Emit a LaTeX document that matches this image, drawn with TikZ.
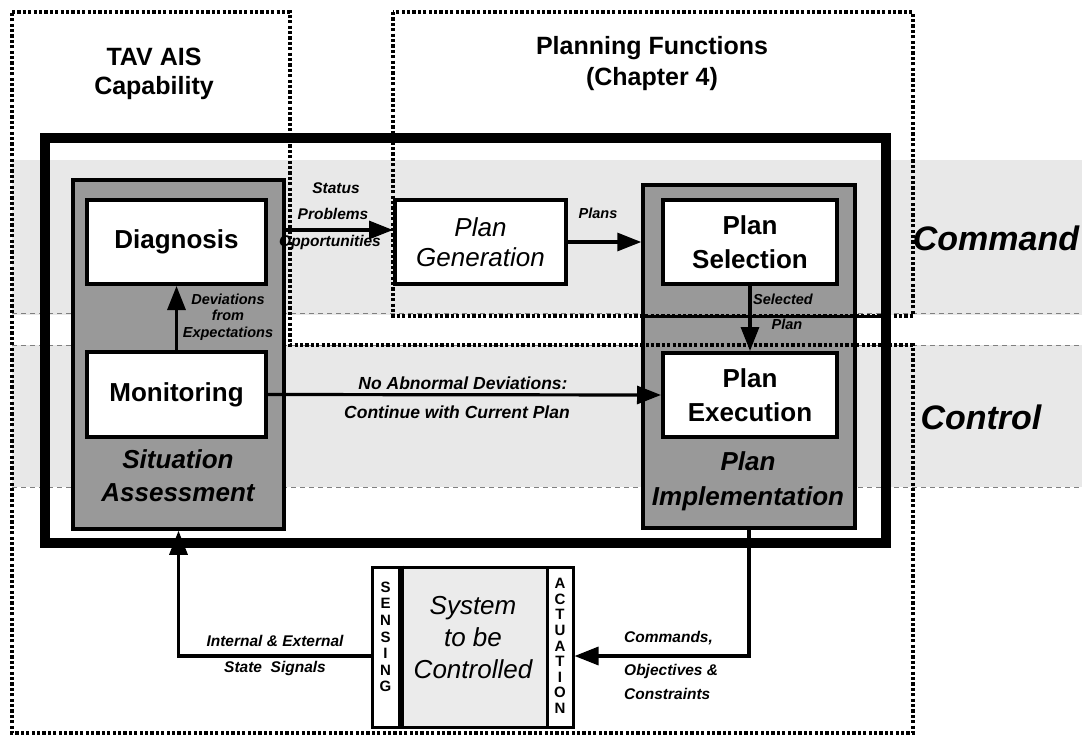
\documentclass[tikz,border=0pt]{standalone}
\usepackage{fontspec}
\setmainfont{Liberation Sans}
\usetikzlibrary{arrows.meta}
\begin{document}
\begin{tikzpicture}[x=1pt,y=-1pt,
  dotregion/.style={line width=3.3pt, dash pattern=on 3.2pt off 2.2pt},
  bandedge/.style={line width=0.9pt, black!50, dash pattern=on 5pt off 4pt},
  wbox/.style={draw, line width=4pt, fill=white, inner sep=0pt, align=center},
  gbox/.style={draw, line width=3.5pt, fill=black!40, inner sep=0pt},
  sbox/.style={draw, line width=3pt, inner sep=0pt, align=center},
  conn/.style={line width=3.2pt, -{Triangle[length=24pt,width=18pt]}},
  lbl/.style={inner sep=0pt, align=center, font=\fontsize{15.5}{17}\selectfont\bfseries\itshape},
  slbl/.style={inner sep=0pt, align=center, font=\fontsize{14.5}{16.5}\selectfont\bfseries\itshape},
  boxfont/.style={font=\fontsize{26}{34}\selectfont\bfseries},
  big/.style={inner sep=0pt, align=center, font=\fontsize{26}{33}\selectfont\bfseries\itshape},
]
\useasboundingbox (0,0) rectangle (1082,736);

% light stippled bands
\fill[black!9] (12,160) rectangle (1082,315);
\fill[black!9] (12,345) rectangle (1082,487);
\draw[bandedge] (12,313) -- (1082,313);
\draw[bandedge] (12,345) -- (1082,345);
\draw[bandedge] (12,487) -- (1082,487);

% thick frame
\node[draw, line width=10pt, minimum width=841pt, minimum height=405.5pt, inner sep=0pt] (frame) at (465.5,340.25) {};

% grey groups
\node[gbox, minimum width=211pt, minimum height=349pt] (sa) at (178.5,354.5) {};
\node[gbox, minimum width=212pt, minimum height=343pt] (pimp) at (749,356.5) {};
\draw[line width=3pt] (pimp.west |- 0,316) -- (frame.east |- 0,316);

% white boxes
\node[wbox, boxfont, minimum width=179pt, minimum height=84pt] (diag) at (176.5,242) {Diagnosis};
\node[wbox, boxfont, minimum width=179pt, minimum height=85pt] (mon) at (176.5,394.5) {Monitoring};
\node[wbox, font=\fontsize{26}{30}\selectfont\itshape, minimum width=171pt, minimum height=84pt] (pgen) at (480.5,242) {Plan\\Generation};
\node[wbox, boxfont, minimum width=174pt, minimum height=84pt] (psel) at (750,242) {Plan\\Selection};
\node[wbox, boxfont, minimum width=174pt, minimum height=84pt] (pexe) at (750,395) {Plan\\Execution};

% system to be controlled
\node[sbox, fill=black!8, minimum width=148pt, minimum height=160pt] (sysm) at (473,647) {};
\node[sbox, fill=white, minimum width=27pt, minimum height=160pt] (sens) at (385.5,647) {};
\node[sbox, fill=white, minimum width=26pt, minimum height=160pt] (act) at (560,647) {};
\draw[line width=6pt] (sens.north east) -- (sens.south east);
\node[inner sep=0pt, align=center, font=\fontsize{15}{16.6}\selectfont\bfseries] (senst) at ([yshift=10pt]sens.center) {S\\E\\N\\S\\I\\N\\G};
\node[inner sep=0pt, align=center, font=\fontsize{15}{15.6}\selectfont\bfseries] (actt) at ([yshift=1pt]act.center) {A\\C\\T\\U\\A\\T\\I\\O\\N};
\node[inner sep=0pt, align=center, font=\fontsize{26}{32}\selectfont\itshape] (syst) at ([yshift=9pt]sysm.center) {System\\to be\\Controlled};

% dotted regions
\draw[dotregion] (12,12) -- (290,12) -- (290,345) -- (913,345) -- (913,733) -- (12,733) -- cycle;
\draw[dotregion] (393,12) rectangle (913,316);

% connectors
\coordinate (st) at ([yshift=12pt]pgen.west);
\draw[conn] (sa.east |- st) -- (st);
\draw[conn] (pgen.east) -- (pimp.west |- pgen.east);
\draw[conn] (mon.north) -- (diag.south);
\draw[conn] (psel.south) -- (pexe.north);
\draw[conn] (mon.east) -- (pexe.west);
\coordinate (cmd) at ([yshift=-9pt]act.east);
\draw[conn] (pimp.south) |- (cmd);
\coordinate (sig) at ([yshift=-9pt]sens.west);
\draw[conn] (sig) -| (sa.south);

% labels
\node[lbl] (l1) at (336,188) {Status};
\node[lbl] (l2) at (333,214) {Problems};
\node[lbl] (l3) at (330,242) {Opportunities};
\node[slbl] (l4) at (228,317) {Deviations\\from\\Expectations};
\node[slbl] (l5) at (598,213) {Plans};
\node[slbl] (l6) at (783,299) {Selected};
\node[slbl] (l7) at (787,324) {Plan};
\node[lbl, font=\fontsize{17.5}{20}\selectfont\bfseries\itshape] (l8) at (463,383) {No Abnormal Deviations:};
\node[lbl, font=\fontsize{17.5}{20}\selectfont\bfseries\itshape] (l9) at (457,412) {Continue with Current Plan};
\node[lbl] (l10) at (275,641) {Internal \& External};
\node[lbl] (l11) at (275,668) {State\ \ Signals};
\node[lbl, anchor=west] (l12) at (624,638) {Commands,};
\node[lbl, anchor=west] (l13) at (624,671) {Objectives \&};
\node[lbl, anchor=west] (l14) at (624,694) {Constraints};

\node[big] (l15) at (178,476) {Situation\\Assessment};
\node[big, font=\fontsize{26}{35}\selectfont\bfseries\itshape] (l16) at (748,481) {Plan\\Implementation};
\node[inner sep=0pt, font=\fontsize{34}{40}\selectfont\bfseries\itshape] (l17) at (996,238) {Command};
\node[inner sep=0pt, font=\fontsize{34}{40}\selectfont\bfseries\itshape] (l18) at (981,417) {Control};
\node[inner sep=0pt, align=center, font=\fontsize{25}{29}\selectfont\bfseries] (l19) at (154,74) {TAV AIS\\Capability};
\node[inner sep=0pt, align=center, font=\fontsize{25}{31}\selectfont\bfseries] (l20) at (652,64) {Planning Functions\\(Chapter 4)};
\end{tikzpicture}
\end{document}
